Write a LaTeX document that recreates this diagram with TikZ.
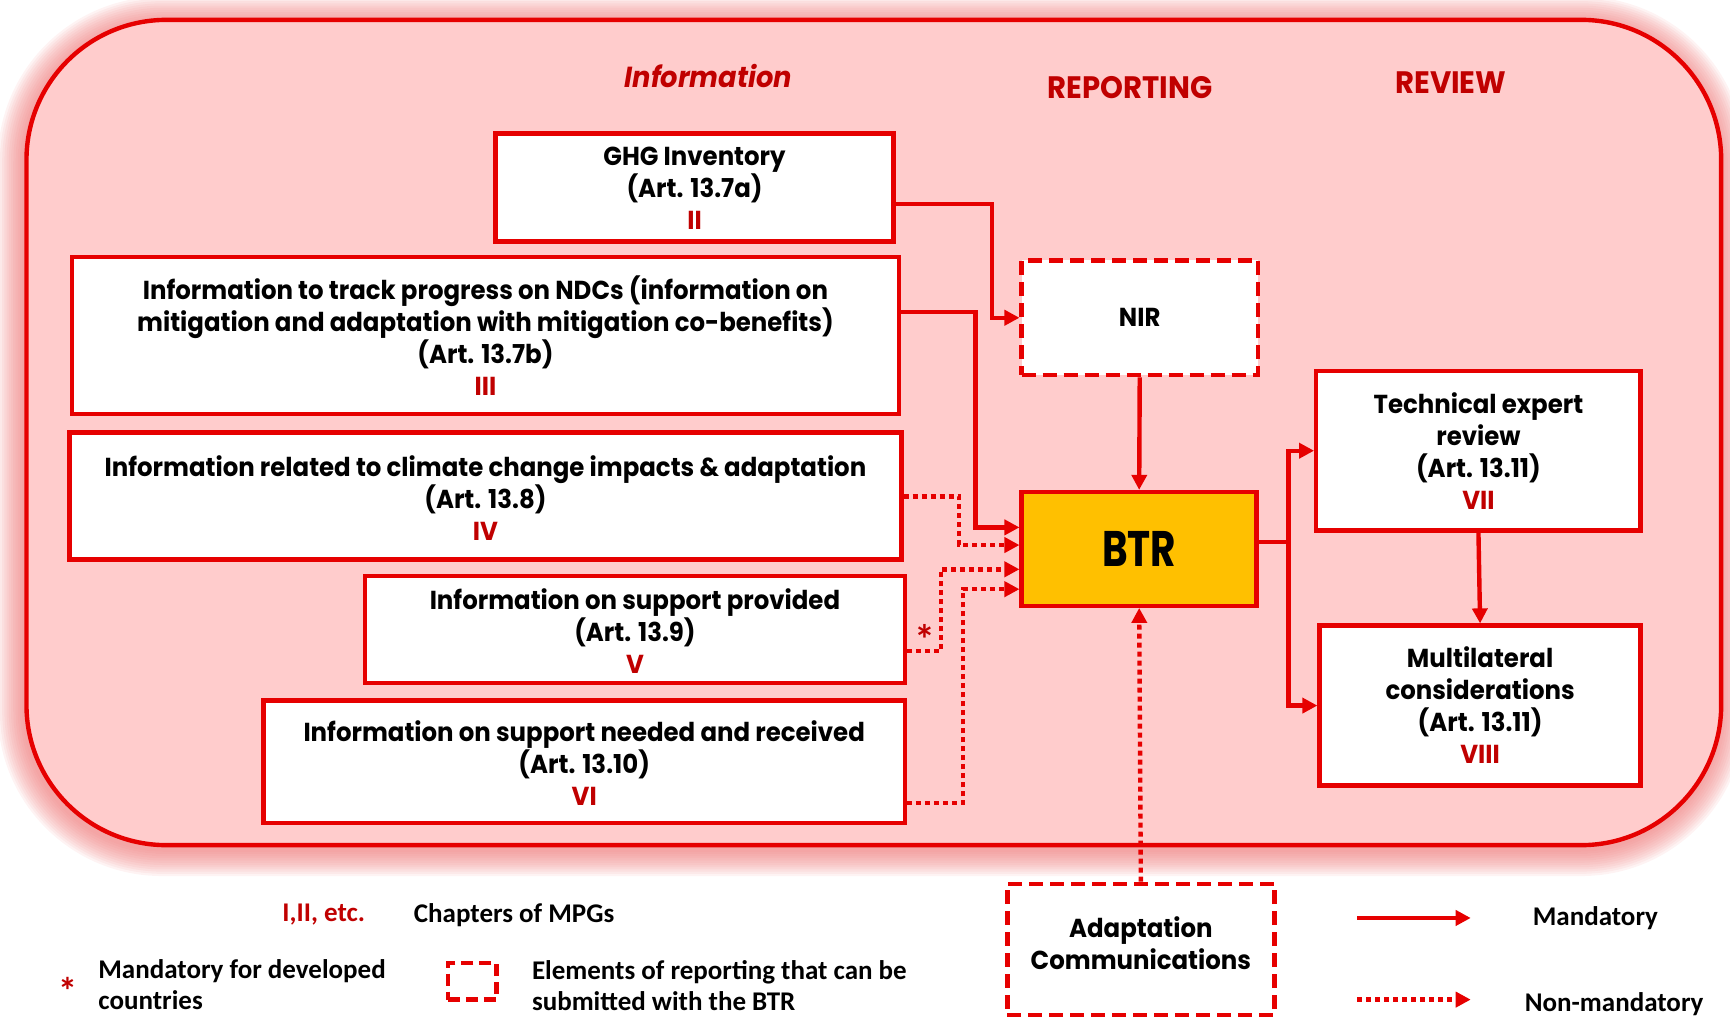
\documentclass[tikz,border=0pt]{standalone}
\usepackage{fontspec}
\setmainfont{Carlito}
\newfontfamily\gfont{Poppins}[FakeStretch=0.94]
\newfontfamily\gfontn{Poppins}[FakeStretch=0.78]
\usetikzlibrary{arrows.meta,fit}
\definecolor{cred}{HTML}{E60000}
\definecolor{dred}{HTML}{C00000}
\definecolor{pinkfill}{HTML}{FFCCCC}
\definecolor{glowc}{HTML}{EE7777}
\definecolor{gold}{HTML}{FFC000}
\newcommand\nr[1]{{\color{dred}#1}}
\tikzset{
  box/.style={draw=cred, line width=4.4pt, fill=white, inner sep=0pt},
  dbox/.style={box, dash pattern=on 14pt off 7pt},
  txt/.style={align=center, inner sep=0pt, font=\gfont\bfseries\fontsize{26}{32}\selectfont},
  lg/.style={inner sep=0pt, font=\bfseries\fontsize{27}{31}\selectfont},
  ttl/.style={inner sep=0pt, text=dred, font=\gfont\bfseries\fontsize{31}{36}\selectfont},
  mand/.style={draw=cred, line width=4.4pt, -{Triangle[length=15pt,width=15pt]}},
  nonm/.style={mand, dash pattern=on 5pt off 4pt},
}
\begin{document}
\begin{tikzpicture}[x=1.1033pt,y=-1.1033pt]
\useasboundingbox (0,0) rectangle (1568,922);
% glow
\foreach \i in {1,...,12}{
  \fill[glowc, opacity=0.085, rounded corners=(140+2*\i)*1pt]
    (24-2*\i-2,18-2*\i+3) rectangle (1560+2*\i-2,766+2*\i+4);
}
\draw[cred, line width=4.4pt, fill=pinkfill, rounded corners=140pt] (24,18) rectangle (1560,766);

% titles
\node[ttl, font=\gfont\bfseries\itshape\fontsize{29}{34}\selectfont] (tinfo) at (642,69) {Information};
\node[ttl] (trep) at (1024,79) {REPORTING};
\node[ttl] (trev) at (1315,75) {REVIEW};

% boxes
\node[box, fit={(449,121) (810,219)}] (ghg) {};
\node[txt] (ghgt) at (629.5,171) {GHG Inventory\\(Art. 13.7a)\\\nr{II}};

\node[box, fit={(65,233) (815,375)}] (ndc) {};
\node[txt] (ndct) at (440,304.5) {Information to track progress on NDCs (information on\\mitigation and adaptation with mitigation co-benefits)\\(Art. 13.7b)\\\nr{III}};

\node[box, fit={(63,392) (817,507)}] (imp) {};
\node[txt] (impt) at (440,451) {Information related to climate change impacts \& adaptation\\(Art. 13.8)\\\nr{IV}};

\node[box, fit={(331,522) (820,619)}] (sp) {};
\node[txt] (spt) at (575.5,572) {Information on support provided\\(Art. 13.9)\\\nr{V}};

\node[box, fit={(239,635) (820,746)}] (sn) {};
\node[txt] (snt) at (529.5,692) {Information on support needed and received\\(Art. 13.10)\\\nr{VI}};

\node[dbox, fit={(926,236) (1140,340)}] (nir) {};
\node[txt] (nirt) at (nir.center) {NIR};

\node[box, fill=gold, fit={(926,446) (1139,549)}] (btr) {};
\node[inner sep=0pt, font=\gfontn\bfseries\fontsize{50}{60}\selectfont] (btrt) at (btr.center) {BTR};

\node[box, fit={(1193,336) (1487,481)}] (ter) {};
\node[txt] (tert) at (ter.center) {Technical expert\\review\\(Art. 13.11)\\\nr{VII}};

\node[box, fit={(1196,567) (1487,712)}] (mul) {};
\node[txt] (mult) at (mul.center) {Multilateral\\considerations\\(Art. 13.11)\\\nr{VIII}};

\node[dbox, fit={(913,801) (1155,920)}] (ac) {};
\node[txt] (act) at (1034,854.5) {Adaptation\\Communications};

% connectors
\draw[mand] (ghg.east |- 0,185) -- (899,185) |- (nir.west);
\draw[mand] (ndc.east |- 0,283) -- (884,283) |- (btr.west |- 0,478);
\draw[nonm] (imp.east |- 0,450) -- (869,450) |- (btr.west |- 0,494);
\draw[nonm] (sp.east |- 0,590) -- (853,590) |- (btr.west |- 0,516);
\draw[nonm] (sn.east |- 0,728) -- (873,728) |- (btr.west |- 0,534);
\draw[mand] (nir.south) -- (btr.north);
\draw[nonm] (ac.north) -- (btr.south);
\draw[mand] (btr.east |- 0,491) -- (1168,491) |- (ter.west);
\draw[mand] (1168,491) |- (mul.west);
\draw[mand] (ter.south) -- (mul.north);
\node[lg, text=dred, font=\bfseries\fontsize{42}{42}\selectfont] (ast) at (838,580) {*};

% legend
\node[lg, text=dred, anchor=east] (lg1) at (331,829) {I,II, etc.};
\node[lg, anchor=west] (lg2) at (375,829) {Chapters of MPGs};
\node[lg, text=dred, anchor=base, font=\bfseries\fontsize{38}{38}\selectfont] (lg3) at (62,910) {*};
\node[lg, anchor=west, align=left] (lg4) at (89,892) {Mandatory for developed\\countries};
\node[draw=cred, line width=4.4pt, dash pattern=on 12pt off 6pt, inner sep=0pt, fit={(406,873) (450,906)}] (lg5) {};
\node[lg, anchor=west, align=left] (lg6) at (482,893) {Elements of reporting that can be\\submitted with the BTR};
\coordinate (m1) at (1230,832);
\coordinate (m2) at (1333,832);
\draw[mand] (m1) -- (m2);
\node[lg] (lg7) at (1446,832) {Mandatory};
\coordinate (n1) at (1230,906);
\coordinate (n2) at (1333,906);
\draw[nonm] (n1) -- (n2);
\node[lg] (lg8) at (1463,910) {Non-mandatory};
\end{tikzpicture}
\end{document}
